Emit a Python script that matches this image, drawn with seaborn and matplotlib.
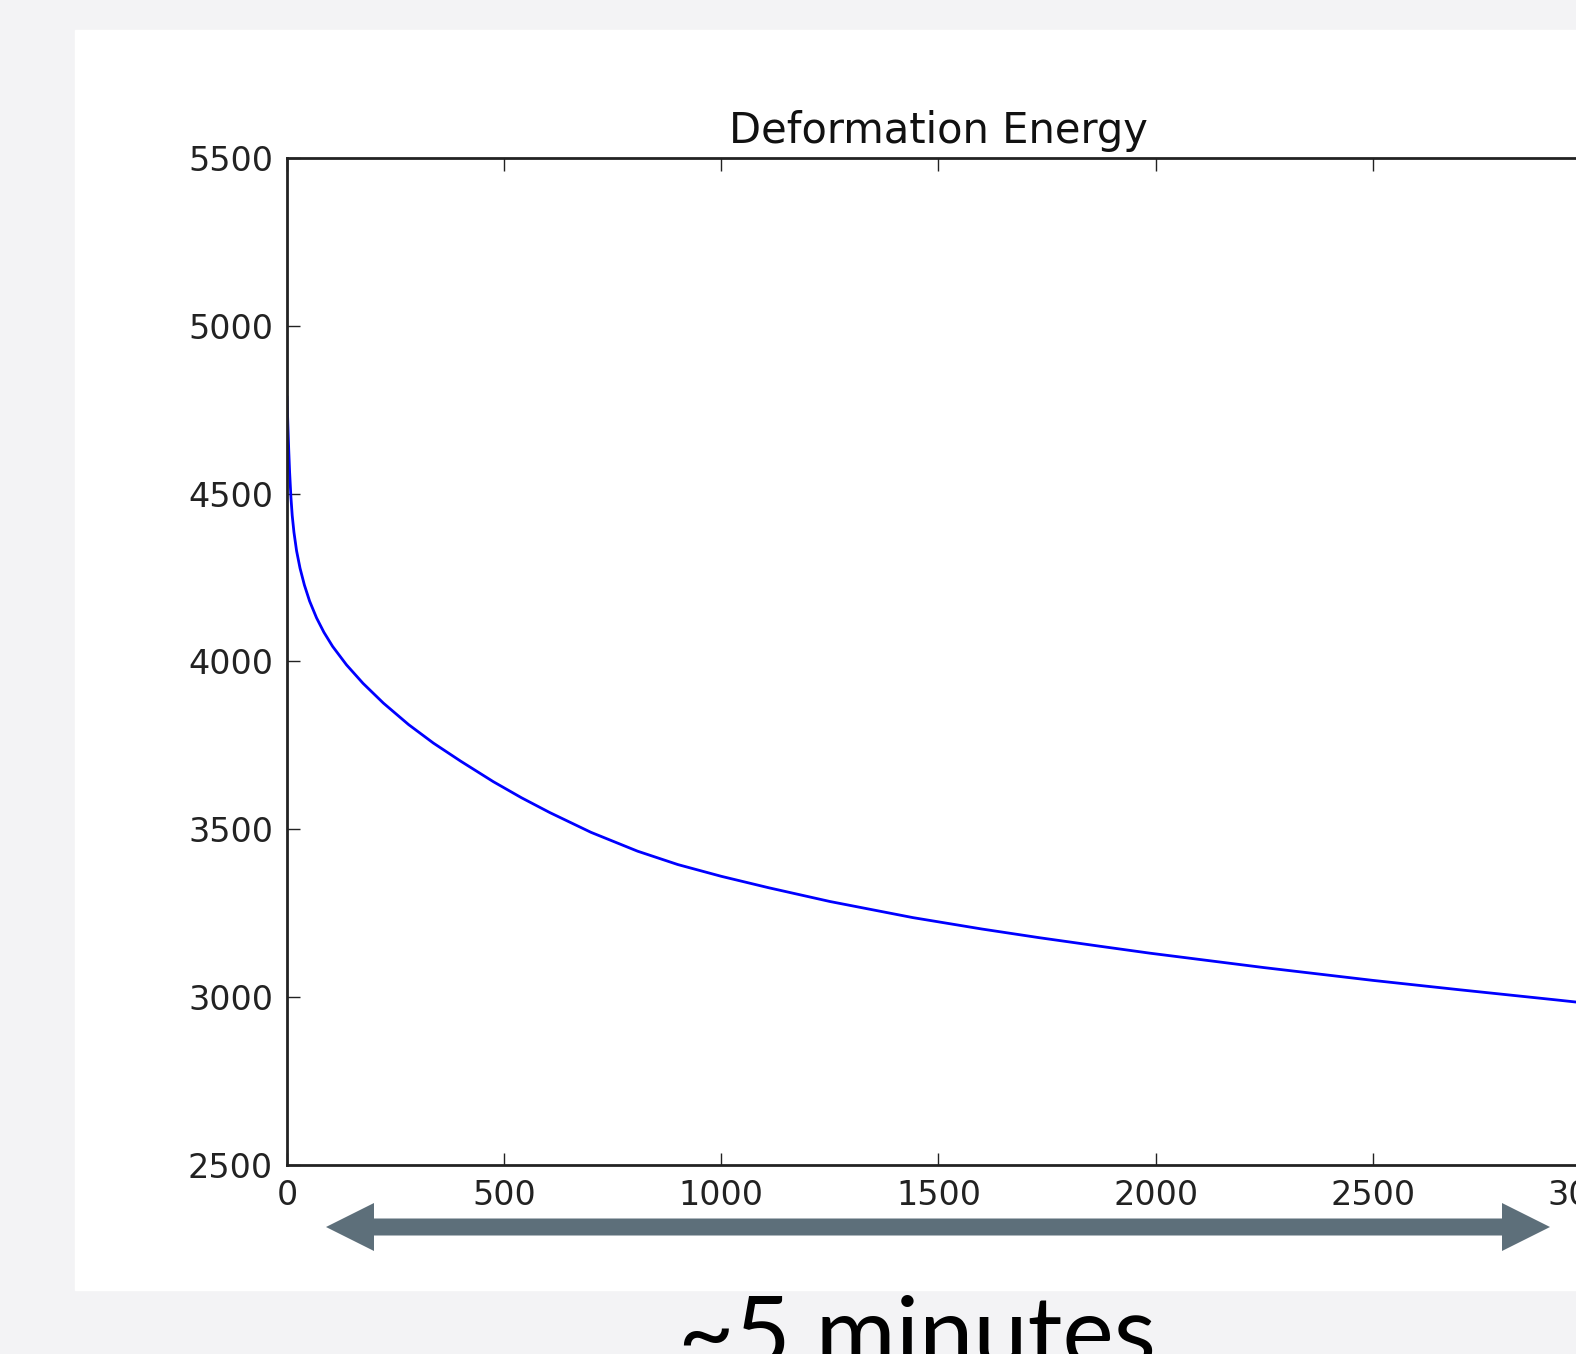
import seaborn as sns
import matplotlib.pyplot as plt
from matplotlib.patches import Rectangle, Polygon
from matplotlib.transforms import IdentityTransform

# values (iteration vs. energy)
step = [0, 2, 4, 6, 9, 12, 16, 22, 30, 40, 52, 68, 85, 105, 137, 175, 222,
        280, 337, 400, 475, 540, 605, 700, 807, 900, 1000, 1109, 1250, 1441,
        1600, 1733, 1870, 1987, 2250, 2500, 2700, 2921, 3000]
energy = [4790, 4705, 4630, 4565, 4490, 4435, 4385, 4330, 4278, 4228, 4180,
          4130, 4087, 4045, 3990, 3935, 3876, 3812, 3757, 3703, 3642, 3594,
          3550, 3491, 3435, 3395, 3360, 3326, 3285, 3237, 3203, 3177, 3152,
          3131, 3088, 3050, 3022, 2992, 2981]
x_ticks = [0, 500, 1000, 1500, 2000, 2500, 3000]
y_ticks = [2500, 3000, 3500, 4000, 4500, 5000, 5500]

sns.set_style('ticks')
plt.rcParams['font.family'] = ['DejaVu Sans']

W, H = 1576, 1354
fig = plt.figure(figsize=(W / 100, H / 100), dpi=100)
fig.patch.set_facecolor('#f3f3f5')

# slide panel, behind the axes
panel = Rectangle((75 / W, 64 / H), 1.0, (1290 - 30) / H,
                  transform=fig.transFigure, color='white', zorder=-5)
fig.add_artist(panel)

ax = fig.add_axes([287 / W, (H - 1165) / H, (1590 - 287) / W, (1165 - 158) / H])
ax.set_facecolor('white')
sns.lineplot(x=step, y=energy, color='#0000ff', linewidth=2, ax=ax)

ax.set_xlim(0, 3000)
ax.set_ylim(2500, 5500)
ax.set_xticks(x_ticks)
ax.set_yticks(y_ticks)
ax.tick_params(direction='in', length=9, width=1.0, top=True, right=True,
               labelsize=24, pad=10, colors='#222222')
for sp in ax.spines.values():
    sp.set_linewidth(2)
    sp.set_color('#222222')
ax.set_title('Deformation Energy', fontsize=30, pad=11, color='#111111')

# double-headed arrow under the x axis (pixel coords, origin bottom-left)
yc = H - 1227
arrow = Polygon([(326, yc), (374, yc + 24), (374, yc + 8.5), (1502, yc + 8.5),
                 (1502, yc + 24), (1550, yc), (1502, yc - 24), (1502, yc - 8.5),
                 (374, yc - 8.5), (374, yc - 24)],
                closed=True, transform=IdentityTransform(),
                facecolor='#5d6f7a', edgecolor='none', zorder=5)
fig.add_artist(arrow)

fig.text(917 / W, -12 / H, '~5 minutes', family=['Lato', 'DejaVu Sans'],
         fontsize=70, ha='center', va='baseline', color='black')

fig.savefig('out.png', dpi=100, facecolor=fig.get_facecolor())
